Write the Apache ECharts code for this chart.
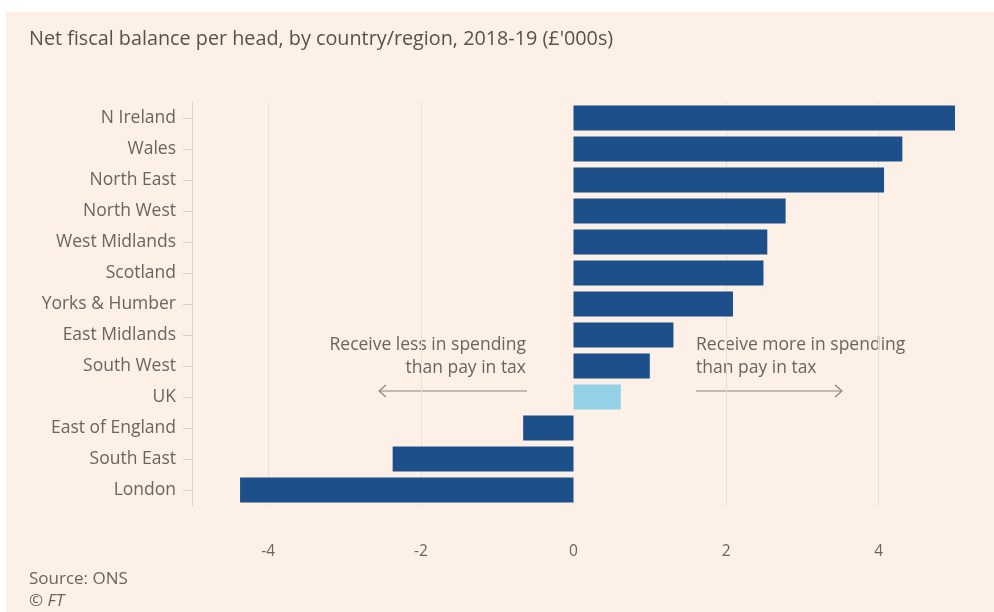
<!DOCTYPE html>
<html>
<head>
<meta charset="utf-8">
<script src="https://cdn.jsdelivr.net/npm/echarts@6/dist/echarts.min.js"></script>
<style>
  html, body { margin: 0; padding: 0; background: #ffffff; }
  #chart { position: absolute; left: 6px; top: 12px; width: 988px; height: 600px; }
</style>
</head>
<body>
<div id="chart"></div>
<script>
// Net fiscal balance per head, £'000s, 2018-19
const regions = ['N Ireland', 'Wales', 'North East', 'North West', 'West Midlands', 'Scotland',
  'Yorks & Humber', 'East Midlands', 'South West', 'UK', 'East of England', 'South East', 'London'];
const balances = [5.0, 4.31, 4.07, 2.78, 2.54, 2.49, 2.09, 1.31, 1.0, 0.62, -0.66, -2.37, -4.37];
const xTicks = [-4, -2, 0, 2, 4];
const gridValues = [-4, -2, 2, 4];

const FONT = '"Open Sans"';
const DARK = '#1d4f8b';
const LIGHT = '#93d1e7';
const TEXT = '#6a655f';
const LABEL_SIZE = 17.5;

const chart = echarts.init(document.getElementById('chart'));

chart.setOption({
  backgroundColor: '#fdf0e6',
  animation: false,
  textStyle: { fontFamily: FONT },
  title: {
    text: 'Net fiscal balance per head, by country/region, 2018-19 (£\'000s)',
    left: 18, top: 12,
    textStyle: { fontFamily: FONT, fontSize: 19.8, fontWeight: 'normal', color: '#57524e' }
  },
  grid: { left: 186, right: 39, top: 90.5, bottom: 106.5 },
  xAxis: {
    type: 'value', min: -5, max: 5,
    axisLine: { show: false },
    axisTick: { show: false },
    splitLine: { show: false },
    axisLabel: {
      customValues: xTicks,
      margin: 38,
      fontFamily: FONT, fontSize: 15.5, color: TEXT
    }
  },
  yAxis: {
    type: 'category', inverse: true, data: regions,
    axisLine: { show: true, onZero: false, lineStyle: { color: '#ddd1c6', width: 1 } },
    axisTick: { show: true, alignWithLabel: true, length: 9, lineStyle: { color: '#ddd1c6' } },
    axisLabel: { margin: 16, fontFamily: FONT, fontSize: LABEL_SIZE, color: TEXT },
    splitLine: { show: false }
  },
  series: [{
    type: 'bar',
    z: 3,
    barCategoryGap: '19%',
    data: balances.map((v, i) => ({
      value: v,
      itemStyle: { color: regions[i] === 'UK' ? LIGHT : DARK }
    })),
    markLine: {
      silent: true, z: 1,
      symbol: 'none',
      label: { show: false },
      lineStyle: { color: '#ebdfd3', width: 1, type: 'solid' },
      data: gridValues.map(v => ({ xAxis: v }))
    }
  }],
  graphic: [
    { type: 'text', left: 23, top: 559,
      style: { text: 'Source: ONS', font: '17px ' + FONT, fill: TEXT } },
    { type: 'text', left: 23, top: 581,
      style: { text: '© FT', font: 'italic 17px ' + FONT, fill: TEXT } },
    // left note
    { type: 'text', x: 520, y: 333, style: { text: 'Receive less in spending', font: LABEL_SIZE + 'px ' + FONT, fill: TEXT, align: 'right', verticalAlign: 'middle' } },
    { type: 'text', x: 520, y: 356, style: { text: 'than pay in tax', font: LABEL_SIZE + 'px ' + FONT, fill: TEXT, align: 'right', verticalAlign: 'middle' } },
    { type: 'line', shape: { x1: 521, y1: 379, x2: 373, y2: 379 }, style: { stroke: '#8a847f', lineWidth: 1.2 } },
    { type: 'polyline', shape: { points: [[380, 373], [373, 379], [380, 385]] }, style: { stroke: '#8a847f', lineWidth: 1.2, fill: null } },
    // right note
    { type: 'text', x: 690, y: 333, style: { text: 'Receive more in spending', font: LABEL_SIZE + 'px ' + FONT, fill: TEXT, align: 'left', verticalAlign: 'middle' } },
    { type: 'text', x: 690, y: 356, style: { text: 'than pay in tax', font: LABEL_SIZE + 'px ' + FONT, fill: TEXT, align: 'left', verticalAlign: 'middle' } },
    { type: 'line', shape: { x1: 690, y1: 379, x2: 836, y2: 379 }, style: { stroke: '#8a847f', lineWidth: 1.2 } },
    { type: 'polyline', shape: { points: [[829, 373], [836, 379], [829, 385]] }, style: { stroke: '#8a847f', lineWidth: 1.2, fill: null } }
  ]
});
</script>
</body>
</html>
